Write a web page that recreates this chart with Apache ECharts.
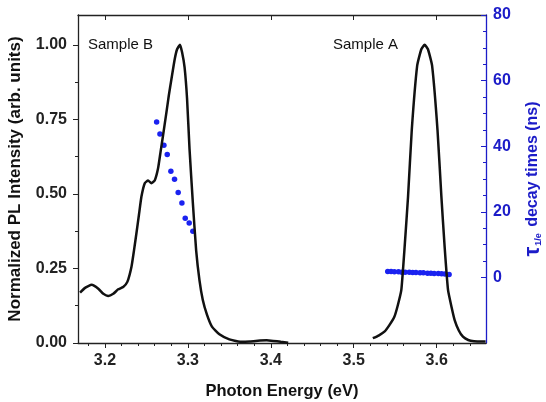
<!DOCTYPE html>
<html>
<head>
<meta charset="utf-8">
<script src="https://cdn.jsdelivr.net/npm/echarts@6/dist/echarts.min.js"></script>
<style>
  html, body { margin: 0; padding: 0; background: #fff; }
  #chart { width: 546px; height: 402px; }
</style>
</head>
<body>
<div id="chart"></div>
<script>
// PL spectra (left axis) + decay times (right axis)

// Sample B spectrum
const energyB = [3.170, 3.176, 3.184, 3.192, 3.198, 3.204, 3.210, 3.216, 3.222, 3.227, 3.232, 3.235, 3.238, 3.241, 3.244, 3.248, 3.252, 3.256, 3.260, 3.264, 3.267, 3.270, 3.274, 3.277, 3.280, 3.284, 3.287, 3.2904, 3.293, 3.296, 3.299, 3.302, 3.306, 3.310, 3.314, 3.318, 3.323, 3.329, 3.338, 3.350, 3.363, 3.375, 3.387, 3.395, 3.403, 3.412, 3.421]
const intensityB = [0.169, 0.185, 0.195, 0.182, 0.165, 0.158, 0.165, 0.180, 0.188, 0.205, 0.256, 0.310, 0.369, 0.430, 0.491, 0.536, 0.545, 0.536, 0.545, 0.585, 0.640, 0.695, 0.771, 0.830, 0.882, 0.950, 0.985, 1.000, 0.975, 0.925, 0.820, 0.650, 0.470, 0.310, 0.210, 0.144, 0.095, 0.055, 0.029, 0.012, 0.004, 0.005, 0.008, 0.009, 0.007, 0.004, 0.001]

// Sample A spectrum
const energyA = [3.523, 3.530, 3.537, 3.543, 3.549, 3.553, 3.5574, 3.5614, 3.5655, 3.5700, 3.5765, 3.5815, 3.5855, 3.5895, 3.5945, 3.6010, 3.6057, 3.6096, 3.6137, 3.618, 3.6217, 3.6267, 3.6317, 3.638, 3.645, 3.655, 3.659]
const intensityA = [0.016, 0.025, 0.038, 0.060, 0.088, 0.125, 0.178, 0.323, 0.491, 0.715, 0.930, 0.985, 1.000, 0.985, 0.930, 0.715, 0.491, 0.323, 0.178, 0.120, 0.077, 0.042, 0.021, 0.010, 0.006, 0.005, 0.005]

// decay times (ns)
const tauEnergyB = [3.2623, 3.2663, 3.2711, 3.2751, 3.2795, 3.2839, 3.2883, 3.2928, 3.2968, 3.3016, 3.3060]
const tauB = [47.4, 43.7, 40.3, 37.5, 32.4, 29.9, 25.9, 22.7, 18.0, 16.6, 14.1]
const tauEnergyA = [3.541, 3.545, 3.549, 3.554, 3.558, 3.562, 3.567, 3.571, 3.575, 3.580, 3.584, 3.589, 3.593, 3.597, 3.602, 3.606, 3.610, 3.615]
const tauA = [1.8, 1.8, 1.7, 1.7, 1.6, 1.6, 1.6, 1.5, 1.5, 1.4, 1.4, 1.3, 1.3, 1.2, 1.2, 1.1, 1.0, 0.9]

// ticks
const xMajor = [3.2, 3.3, 3.4, 3.5, 3.6]
const xMinor = [3.18, 3.22, 3.24, 3.26, 3.28, 3.32, 3.34, 3.36, 3.38, 3.42, 3.44, 3.46, 3.48, 3.52, 3.54, 3.56, 3.58, 3.62, 3.64]
const yMajor = [0, 0.25, 0.5, 0.75, 1.0]
const yMinor = [0.125, 0.375, 0.625, 0.875]
const tauMajor = [0, 20, 40, 60, 80]
const tauMinor = [5, 10, 15, 25, 30, 35, 45, 50, 55, 65, 70, 75]

const FONT = 'Liberation Sans, Arial, sans-serif'
const BLUE = '#1c1cc8'
const DOT = '#1a22f0'
const X_MIN = 3.1675, X_MAX = 3.6595

const zip = (xs, ys) => xs.map((x, i) => [x, ys[i]])

const xBase = (extra) => Object.assign({
    type: 'value', min: X_MIN, max: X_MAX,
    splitLine: { show: false },
    axisLine: { show: false },
    axisLabel: { show: false },
    axisTick: { show: false }
}, extra)

const yBase = (extra) => Object.assign({
    type: 'value',
    splitLine: { show: false },
    axisLine: { show: false },
    axisLabel: { show: false },
    axisTick: { show: false }
}, extra)

var myChart = echarts.init(document.getElementById('chart'))

const option = {
    animation: false,
    textStyle: { fontFamily: FONT },
    grid: { left: 78, right: 60, top: 15, bottom: 59, containLabel: false, outerBoundsMode: 'none' },
    xAxis: [
        xBase({
            position: 'bottom',
            axisLine: { show: true, onZero: false, lineStyle: { color: '#222', width: 1.3 } },
            axisTick: { show: true, customValues: xMajor, length: 5, lineStyle: { color: '#222' } },
            axisLabel: {
                show: true, customValues: xMajor, margin: 10,
                fontSize: 16, fontWeight: 'bold', color: '#222', fontFamily: FONT,
                formatter: v => v.toFixed(1)
            },
            name: 'Photon Energy (eV)', nameLocation: 'middle', nameGap: 40,
            nameTextStyle: { fontSize: 16.5, fontWeight: 'bold', color: '#111', fontFamily: FONT }
        }),
        xBase({
            position: 'bottom',
            axisTick: { show: true, customValues: xMinor, length: 3, lineStyle: { color: '#222' } }
        }),
        xBase({
            position: 'top',
            axisLine: { show: true, onZero: false, lineStyle: { color: '#222', width: 1.3 } },
            axisTick: { show: true, inside: true, customValues: xMajor, length: 5, lineStyle: { color: '#222' } }
        }),
        xBase({
            position: 'top',
            axisTick: { show: true, inside: true, customValues: xMinor, length: 3, lineStyle: { color: '#222' } }
        })
    ],
    yAxis: [
        yBase({
            position: 'left', min: 0, max: 1.1,
            axisLine: { show: true, onZero: false, lineStyle: { color: '#222', width: 1.3 } },
            axisTick: { show: true, customValues: yMajor, length: 5, lineStyle: { color: '#222' } },
            axisLabel: {
                show: true, customValues: yMajor, margin: 11,
                fontSize: 16, fontWeight: 'bold', color: '#222', fontFamily: FONT,
                formatter: v => v.toFixed(2)
            },
            name: 'Normalized PL Intensity (arb. units)', nameLocation: 'middle', nameGap: 54,
            nameTextStyle: { fontSize: 17, fontWeight: 'bold', color: '#111', fontFamily: FONT }
        }),
        yBase({
            position: 'left', min: 0, max: 1.1,
            axisTick: { show: true, customValues: yMinor, length: 3, lineStyle: { color: '#222' } }
        }),
        yBase({
            position: 'right', min: -20, max: 80,
            axisLine: { show: true, onZero: false, lineStyle: { color: BLUE, width: 1.3 } },
            axisTick: { show: true, inside: true, customValues: tauMajor, length: 5, lineStyle: { color: BLUE } },
            axisLabel: {
                show: true, customValues: tauMajor, margin: 7,
                fontSize: 16, fontWeight: 'bold', color: BLUE, fontFamily: FONT
            },
            name: '{tau|τ}{sub|1/e} decay times (ns)', nameLocation: 'middle', nameGap: 36,
            nameTextStyle: {
                fontSize: 16, fontWeight: 'bold', color: BLUE, fontFamily: FONT,
                rich: {
                    tau: { fontSize: 22, fontWeight: 'bold', color: BLUE, fontFamily: FONT },
                    sub: { fontSize: 9, fontWeight: 'bold', color: BLUE, fontFamily: FONT, padding: [12, 2, 0, 1] }
                }
            }
        }),
        yBase({
            position: 'right', min: -20, max: 80,
            axisTick: { show: true, inside: true, customValues: tauMinor, length: 3, lineStyle: { color: BLUE } }
        })
    ],
    graphic: [
        { type: 'text', left: 88, top: 37, style: { text: 'Sample B', fontSize: 15, fontFamily: FONT, fill: '#111' } },
        { type: 'text', left: 333, top: 37, style: { text: 'Sample A', fontSize: 15, fontFamily: FONT, fill: '#111' } }
    ],
    series: [
        {
            name: 'Sample B', type: 'line', xAxisIndex: 0, yAxisIndex: 0,
            data: zip(energyB, intensityB), showSymbol: false, smooth: 0.15,
            lineStyle: { color: '#111', width: 2.5 }
        },
        {
            name: 'Sample A', type: 'line', xAxisIndex: 0, yAxisIndex: 0,
            data: zip(energyA, intensityA), showSymbol: false, smooth: 0.15,
            lineStyle: { color: '#111', width: 2.5 }
        },
        {
            name: 'tau B', type: 'scatter', xAxisIndex: 0, yAxisIndex: 2,
            data: zip(tauEnergyB, tauB), symbolSize: 5.5,
            itemStyle: { color: DOT, opacity: 1 }
        },
        {
            name: 'tau A', type: 'scatter', xAxisIndex: 0, yAxisIndex: 2,
            data: zip(tauEnergyA, tauA), symbolSize: 5.5,
            itemStyle: { color: DOT, opacity: 1 }
        }
    ]
}
myChart.setOption(option)
</script>
</body>
</html>
